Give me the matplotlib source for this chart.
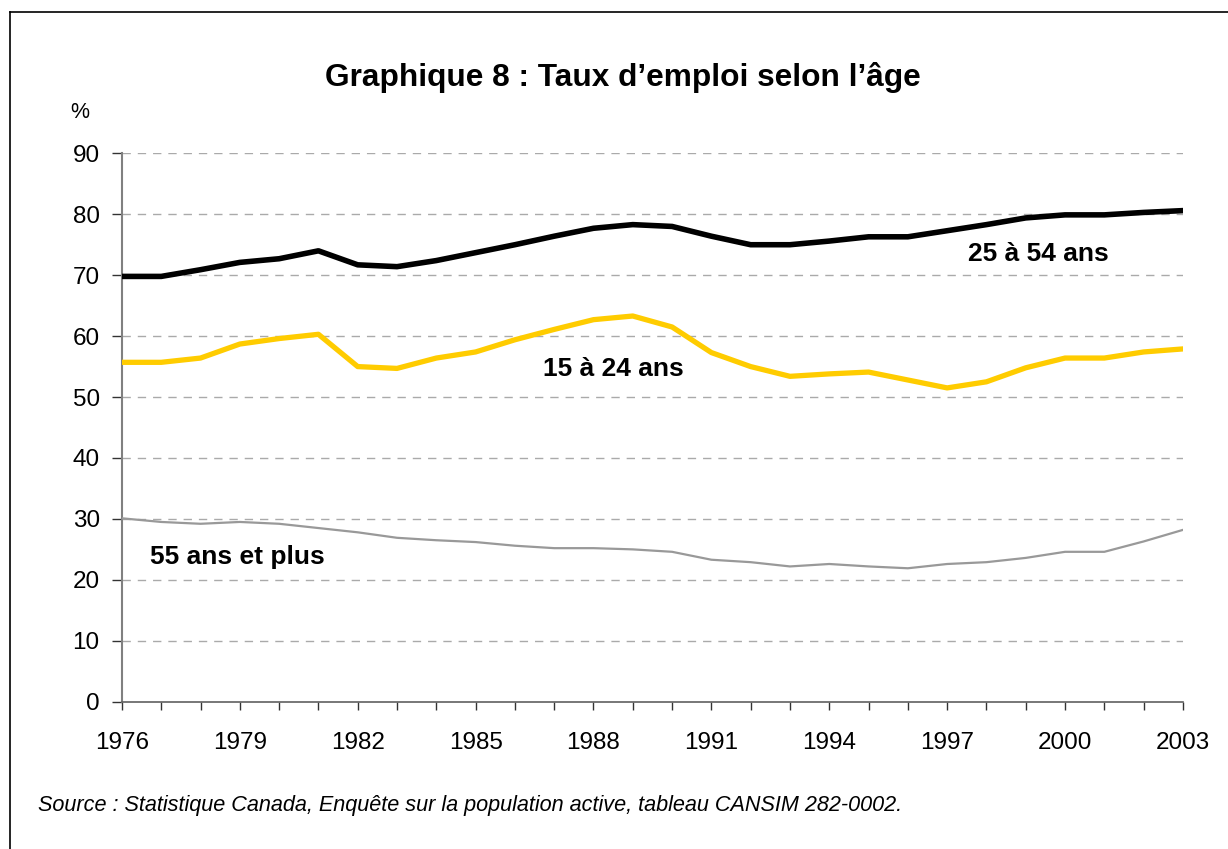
import matplotlib
matplotlib.use("Agg")
import matplotlib.pyplot as plt
from matplotlib.lines import Line2D
from matplotlib.ticker import MultipleLocator

plt.rcParams['font.family'] = ['Liberation Sans', 'DejaVu Sans']

years = list(range(1976, 2004))
age_25_54 = [69.8, 69.8, 70.9, 72.1, 72.7, 74.0, 71.7, 71.4, 72.4, 73.7,
             75.0, 76.4, 77.7, 78.3, 78.0, 76.4, 75.0, 75.0, 75.6, 76.3,
             76.3, 77.3, 78.3, 79.4, 79.9, 79.9, 80.3, 80.6]
age_15_24 = [55.7, 55.7, 56.4, 58.7, 59.6, 60.3, 55.0, 54.7, 56.4, 57.4,
             59.4, 61.1, 62.7, 63.3, 61.5, 57.3, 55.0, 53.4, 53.8, 54.1,
             52.8, 51.5, 52.5, 54.8, 56.4, 56.4, 57.4, 57.9]
age_55_plus = [30.1, 29.5, 29.2, 29.5, 29.2, 28.5, 27.8, 26.9, 26.5, 26.2,
               25.6, 25.2, 25.2, 25.0, 24.6, 23.3, 22.9, 22.2, 22.6, 22.2,
               21.9, 22.6, 22.9, 23.6, 24.6, 24.6, 26.3, 28.2]
x_tick_labels = [str(y) for y in range(1976, 2004, 3)]
y_ticks = list(range(0, 91, 10))

title = "Graphique 8 : Taux d\u2019emploi selon l\u2019\u00e2ge"
source = "Source : Statistique Canada, Enqu\u00eate sur la population active, tableau CANSIM 282-0002."

fig = plt.figure(figsize=(12.28, 8.49), dpi=100)
ax = fig.add_axes([0.0993, 0.1735, 0.864, 0.6459])

ax.plot(years, age_25_54, color='black', lw=4.0, solid_capstyle='round', zorder=3)
ax.plot(years, age_15_24, color='#FFCC00', lw=3.8, solid_capstyle='round', zorder=3)
ax.plot(years, age_55_plus, color='#999999', lw=1.6, zorder=3)

ax.set_xlim(1976, 2003)
ax.set_ylim(0, 90)
ax.set_xticks(list(range(1976, 2004, 3)))
ax.set_xticklabels(x_tick_labels)
ax.xaxis.set_minor_locator(MultipleLocator(1))
ax.set_yticks(y_ticks)
ax.set_yticklabels([str(v) for v in y_ticks])

for v in y_ticks[1:]:
    ax.axhline(v, color='#aaaaaa', lw=1.0, ls=(0, (6, 5)), zorder=1)

for s in ['top', 'right']:
    ax.spines[s].set_visible(False)
ax.spines['left'].set_color('#808080')
ax.spines['left'].set_linewidth(1.5)
ax.spines['bottom'].set_color('#606060')
ax.spines['bottom'].set_linewidth(1.2)

ax.tick_params(axis='x', which='both', direction='out', length=6, width=1.0,
               color='#333333', labelsize=17.5, pad=16)
ax.tick_params(axis='y', which='both', direction='out', length=7, width=1.0,
               color='#333333', labelsize=17.5, pad=9)

ax.text(1999.33, 73.5, "25 \u00e0 54 ans", ha='center', va='center',
        fontsize=19, fontweight='bold')
ax.text(1988.5, 54.6, "15 \u00e0 24 ans", ha='center', va='center',
        fontsize=19, fontweight='bold')
ax.text(1978.95, 23.8, "55 ans et plus", ha='center', va='center',
        fontsize=19, fontweight='bold')

fig.text(0.507, 0.909, title, ha='center', va='center', fontsize=22.8, fontweight='bold')
fig.text(0.065, 0.868, "%", ha='center', va='center', fontsize=15.5)
fig.text(0.031, 0.051, source, ha='left', va='center', fontsize=15.6, style='italic')

fig.add_artist(Line2D([0.0085, 0.0085], [0.0, 0.986], transform=fig.transFigure,
                      color='black', lw=1.2))
fig.add_artist(Line2D([0.0085, 1.0], [0.986, 0.986], transform=fig.transFigure,
                      color='black', lw=1.2))

fig.savefig("out.png", dpi=100)
